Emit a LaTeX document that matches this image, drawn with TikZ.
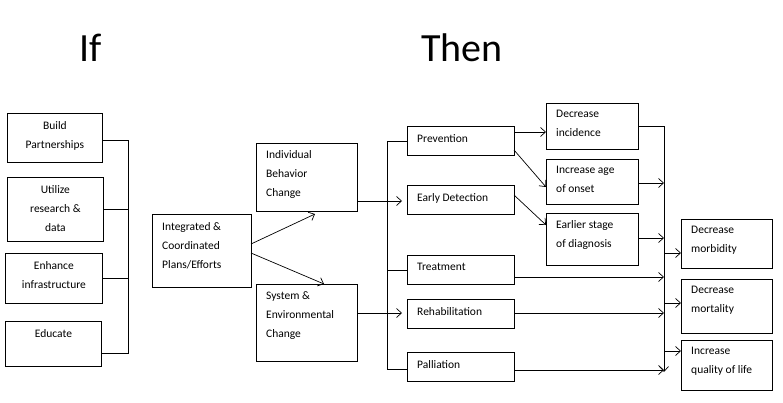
\documentclass[tikz,border=0pt]{standalone}
\usepackage{fontspec}
\setmainfont{Carlito}
\usetikzlibrary{arrows.meta}
\begin{document}
\begin{tikzpicture}[x=1pt,y=-1pt,
  box/.style={draw,line width=0.8pt,anchor=north west,inner sep=0pt},
  txt/.style={font=\fontsize{11.5}{19}\selectfont,inner sep=0pt,align=left,anchor=north west},
  ctxt/.style={font=\fontsize{11.5}{19}\selectfont,inner sep=0pt,align=center,anchor=north},
  ln/.style={line width=0.7pt},
  arr/.style={line width=0.7pt,-{Straight Barb[length=5pt,width=9pt]}}]
\useasboundingbox (0,0) rectangle (783,402);
\newcommand\bx[5]{\node[box,minimum width=#3-#1,minimum height=#4-#2] (#5) at (#1,#2) {};}
\node[font=\fontsize{40}{40}\selectfont] (if) at (91,48) {If};
\node[font=\fontsize{40}{40}\selectfont] (then) at (462,48) {Then};
% left
\bx{7}{113}{102}{162}{b1}\bx{7}{177}{103}{241}{b2}\bx{5}{253}{102}{303}{b3}\bx{5}{321}{101}{366}{b4}
\node[ctxt] at ([yshift=-8]b1.north) {Build\\Partnerships};
\node[ctxt] at ([yshift=-8]b2.north) {Utilize\\research \&\\data};
\node[ctxt] at ([yshift=-8]b3.north) {Enhance\\infrastructure};
\node[ctxt] at ([yshift=-8]b4.north) {Educate};
\coordinate (lb1) at (128,140);\coordinate (lb4) at (128,353);
\draw[ln] (b1.east|-lb1) -- (lb1) -- (lb4) -- (b4.east|-lb4);
\draw[ln] (b2.east) -- (b2.east-|lb1);
\draw[ln] (b3.east) -- (b3.east-|lb1);
% middle
\bx{152}{214}{251}{287}{ic}
\node[txt] at (162,222) {Integrated \&\\Coordinated\\Plans/Efforts};
\bx{256}{143}{357}{211}{ib}
\node[txt] at (266,150) {Individual\\Behavior\\Change};
\bx{256}{284}{357}{361}{se}
\node[txt] at (266,291) {System \&\\Environmental\\Change};
\draw[arr] (251,244) -- (315,214);
\draw[arr] (251,253) -- (324,284);
% column 3
\bx{407}{126}{514}{155}{pv}\node[txt] at (417,134) {Prevention};
\bx{407}{185}{514}{214}{ed}\node[txt] at (417,193) {Early Detection};
\bx{407}{255}{514}{284}{tr}\node[txt] at (417,263) {Treatment};
\bx{407}{299}{514}{328}{rh}\node[txt] at (417,307) {Rehabilitation};
\bx{407}{352}{514}{381}{pl}\node[txt] at (417,360) {Palliation};
\coordinate (v1) at (387,141);\coordinate (v2) at (387,369);
\draw[ln] (pv.west|-v1) -- (v1) -- (v2) -- (pl.west|-v2);
\draw[ln] (tr.west) -- (tr.west-|v1);
\draw[ln] (ib.east|-{0,201}) -- (387,201);
\draw[ln] (se.east|-{0,313}) -- (387,313);
\draw[arr] (387,201) -- (402,201);
\draw[arr] (387,313) -- (402,313);
% column 4
\bx{546}{103}{638}{149}{di}\node[txt] at (556,110) {Decrease\\incidence};
\bx{546}{159}{638}{204}{ia}\node[txt] at (556,166) {Increase age\\of onset};
\bx{546}{213}{638}{265}{es}\node[txt] at (556,220) {Earlier stage\\of diagnosis};
\draw[arr] (514,132) -- (546,132);
\draw[arr] (514,150) -- (546,187);
\draw[arr] (514,195) -- (546,225);
% outputs
\bx{681}{219}{772}{268}{mo}\node[txt] at (691,226) {Decrease\\morbidity};
\bx{681}{279}{772}{333}{mt}\node[txt] at (691,286) {Decrease\\mortality};
\bx{681}{340}{772}{390}{ql}\node[txt] at (691,347) {Increase\\quality of life};
\coordinate (c1) at (664,126);\coordinate (c2) at (664,372);
\draw[ln] (di.east|-c1) -- (c1);
\draw[arr] (c1) -- (c2);
\draw[arr] (ia.east|-{0,183}) -- (664,183);
\draw[arr] (es.east|-{0,238}) -- (664,238);
\draw[arr] (tr.east|-{0,277}) -- (664,277);
\draw[arr] (rh.east|-{0,313}) -- (664,313);
\draw[arr] (pl.east|-{0,370}) -- (664,370);
\draw[arr] (664,253) -- (mo.west|-{0,253});
\draw[arr] (664,303) -- (mt.west|-{0,303});
\draw[arr] (664,351) -- (ql.west|-{0,351});
\end{tikzpicture}
\end{document}
